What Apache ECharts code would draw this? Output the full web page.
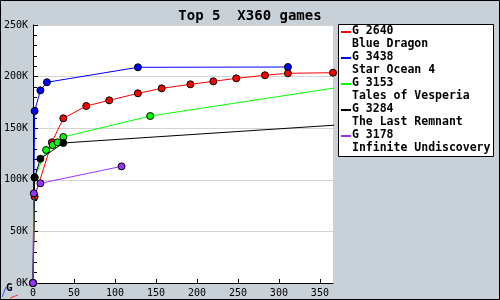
<!DOCTYPE html>
<html><head><meta charset="utf-8">
<script src="https://cdn.jsdelivr.net/npm/echarts@6/dist/echarts.min.js"></script>
<style>html,body{margin:0;padding:0;background:#c8d0d8}#c{width:500px;height:300px}</style>
</head><body><div id="c"></div>
<script>
const titleText = 'Top 5  X360 games';
const codes = ['G 2640', 'G 3438', 'G 3153', 'G 3284', 'G 3178'];
const names = ['Blue Dragon', 'Star Ocean 4', 'Tales of Vesperia', 'The Last Remnant', 'Infinite Undiscovery'];
const colors = ['#ff0000', '#0000ff', '#00ff00', '#000000', '#9933ff'];

const redX = [0, 2, 23, 37, 65, 93, 128, 157, 192, 220, 248, 283, 311, 366];
const redY = [0, 83600, 136300, 159600, 171500, 177000, 183800, 188600, 192500, 195400, 198300, 201300, 203200, 203800];
const blueX = [0, 2, 9, 17, 128, 311];
const blueY = [0, 166700, 186700, 194500, 209000, 209300];
const greenX = [0, 2, 16, 24, 30, 37, 143, 500];
const greenY = [0, 102000, 128900, 133700, 136300, 141500, 161800, 204900];
const blackX = [0, 2, 9, 37, 500];
const blackY = [0, 102400, 120400, 135700, 159800];
const purpleX = [0, 1, 9, 108];
const purpleY = [0, 86900, 96600, 113000];

const xs = [redX, blueX, greenX, blackX, purpleX];
const ys = [redY, blueY, greenY, blackY, purpleY];

const mono = 'DejaVu Sans Mono';
const chart = echarts.init(document.getElementById('c'), null, {renderer: 'canvas'});

const series = xs.map((xa, i) => ({
  type: 'line',
  name: codes[i],
  data: xa.map((x, j) => [x, ys[i][j]]),
  symbol: 'circle',
  symbolSize: 7,
  showAllSymbol: true,
  clip: true,
  lineStyle: {color: colors[i], width: 1},
  itemStyle: {color: colors[i], borderColor: '#000', borderWidth: 1},
  emphasis: {disabled: true},
  z: 2 + i
}));

const graphics = [
  {type: 'rect', shape: {x: 0.5, y: 0.5, width: 499, height: 299}, style: {fill: 'none', stroke: '#000', lineWidth: 1}, z: 100},
  {type: 'rect', shape: {x: 338.5, y: 24.5, width: 155, height: 132}, style: {fill: '#fff', stroke: '#000', lineWidth: 1}, z: 50},
  {type: 'text', x: 6, y: 283, style: {text: 'G', font: 'bold 11px ' + mono, fill: '#000'}, z: 60},
  {type: 'line', shape: {x1: 2, y1: 297, x2: 6, y2: 287}, style: {stroke: '#3355ff', lineWidth: 1}, z: 60},
  {type: 'line', shape: {x1: 10, y1: 298, x2: 18, y2: 295}, style: {stroke: '#ff3333', lineWidth: 1}, z: 60}
];
codes.forEach((c, i) => {
  const y0 = 32 + i * 26;
  graphics.push({type: 'line', shape: {x1: 341, y1: y0, x2: 351, y2: y0}, style: {stroke: colors[i], lineWidth: 2}, z: 60});
  graphics.push({type: 'text', x: 352, y: y0 - 7, style: {text: c, font: 'bold 11.5px ' + mono, fill: '#000'}, z: 60});
  graphics.push({type: 'text', x: 352, y: y0 + 6, style: {text: names[i], font: 'bold 11.5px ' + mono, fill: '#000'}, z: 60});
});

chart.setOption({
  animation: false,
  backgroundColor: '#c8d0d8',
  title: {text: titleText, left: 'center', top: 4, textStyle: {fontFamily: mono, fontSize: 14, fontWeight: 'bold', color: '#000'}},
  grid: {left: 33, top: 25, width: 300, height: 258, backgroundColor: '#fff', show: true, borderWidth: 0},
  xAxis: {
    type: 'value', min: 0, max: 366, interval: 50,
    axisLine: {show: true, lineStyle: {color: '#000', width: 1}},
    axisTick: {show: true, inside: true, length: 4, lineStyle: {color: '#000'}},
    axisLabel: {showMaxLabel: false, color: '#000', fontFamily: mono, fontSize: 10, margin: 5,
      formatter: v => (v % 50 === 0 ? String(v) : '')},
    splitLine: {show: false}
  },
  yAxis: {
    type: 'value', min: 0, max: 250000, interval: 50000,
    axisLine: {show: true, lineStyle: {color: '#000', width: 1}},
    axisTick: {show: true, inside: true, length: 5, lineStyle: {color: '#000'}},
    minorTick: {show: true, splitNumber: 5, length: 4, lineStyle: {color: '#000'}},
    axisLabel: {color: '#000', fontFamily: mono, fontSize: 10, margin: 5, formatter: v => (v / 1000) + 'K'},
    splitLine: {show: true, lineStyle: {color: '#d4d4d4', width: 1}}
  },
  series: series,
  graphic: graphics
});
</script></body></html>
